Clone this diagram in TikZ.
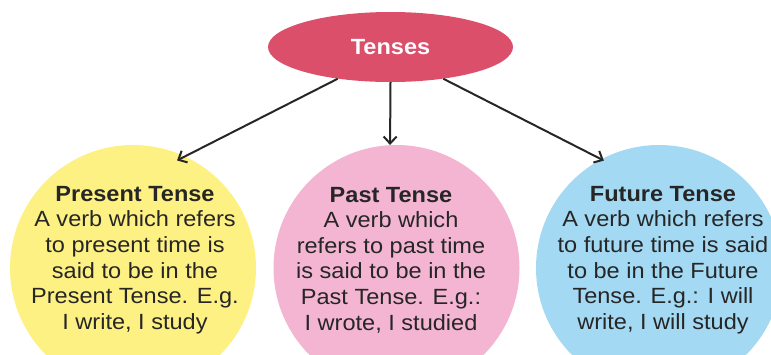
\documentclass[tikz,border=0pt]{standalone}
\usepackage{fontspec}
\setmainfont{Liberation Sans}[FakeStretch=1.07]
\usetikzlibrary{shapes.geometric,arrows.meta}

\definecolor{tenseRed}{HTML}{DC4F6B}
\definecolor{presentYellow}{HTML}{FEF183}
\definecolor{pastPink}{HTML}{F4B5D3}
\definecolor{futureBlue}{HTML}{A4D9F4}
\definecolor{inkGray}{HTML}{262626}

\begin{document}
\begin{tikzpicture}[x=1pt,y=-1pt,
    bubble/.style={circle,minimum size=246pt,inner sep=0pt},
    desc/.style={align=center,text=inkGray,inner sep=0pt,
                 font=\fontsize{22}{25.6}\selectfont},
    link/.style={-{Straight Barb[length=7pt,width=13pt]},line width=2pt,draw=inkGray}]

        \useasboundingbox (0,0) rectangle (771,354);

        % Bubbles for the three tenses
        \node[bubble,fill=presentYellow] (present) at (133,268) {};
        \node[bubble,fill=pastPink] (past) at (396.5,268) {};
        \node[bubble,fill=futureBlue] (future) at (659,268) {};

        % Main topic
        \node[ellipse,fill=tenseRed,minimum width=245pt,minimum height=70pt,inner sep=0pt,
              text=white,font=\bfseries\fontsize{22}{26}\selectfont] (tenses) at (390.5,47) {Tenses};

        % Descriptions inside the bubbles
        \node[desc] (presenttext) at (135,260) {\textbf{Present Tense}\\A verb which refers\\to present time is\\said to be in the\\Present Tense. E.g.\\I write, I study};
        \node[desc] (pasttext) at (391,260) {\textbf{Past Tense}\\A verb which\\refers to past time\\is said to be in the\\Past Tense. E.g.:\\I wrote, I studied};
        \node[desc] (futuretext) at (663,260) {\textbf{Future Tense}\\A verb which refers\\to future time is said\\to be in the Future\\Tense. E.g.: I will\\write, I will study};

        % Arrows from the topic to each tense
        \draw[link,shorten >=-9pt] (tenses.211) -- (present.65);
        \draw[link] (tenses.270) -- (past.93);
        \draw[link,shorten >=-3pt] (tenses.329) -- (future.118);

\end{tikzpicture}
\end{document}
